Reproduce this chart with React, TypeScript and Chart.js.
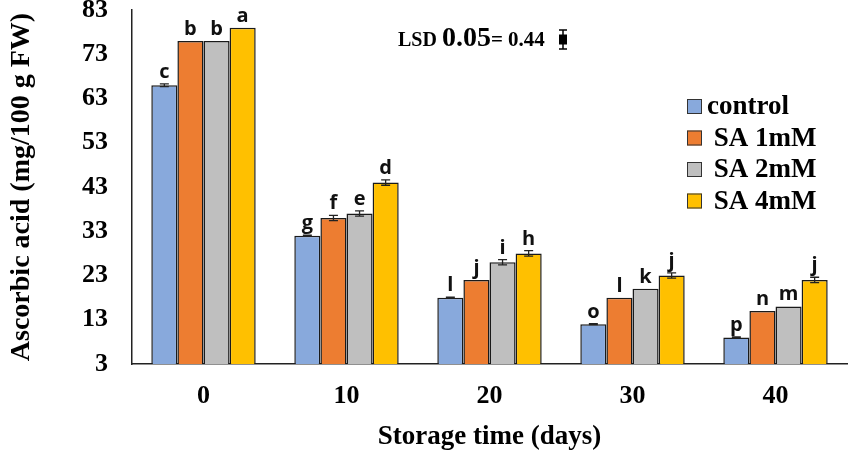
import { useEffect, useRef } from "react"
import { Chart, registerables } from "chart.js"

Chart.register(...registerables)

// Storage time (days)
const categories = ["0", "10", "20", "30", "40"]

// Ascorbic acid (mg/100 g FW)
const control = [66, 32, 18, 12, 9]
const sa1 = [76, 36, 22, 18, 15]
const sa2 = [76, 37, 26, 20, 16]
const sa4 = [79, 44, 28, 23, 22]

// error bar half-widths
const controlErr = [0.3, 0.1, 0.1, 0.1, 0.1]
const sa1Err = [0, 0.6, 0, 0, 0]
const sa2Err = [0, 0.6, 0.6, 0, 0]
const sa4Err = [0, 0.6, 0.6, 0.6, 0.6]

// significance letters
const controlLetters = ["c", "g", "l", "o", "p"]
const sa1Letters = ["b", "f", "j", "l", "n"]
const sa2Letters = ["b", "e", "i", "k", "m"]
const sa4Letters = ["a", "d", "h", "j", "j"]

const seriesNames = ["control", " SA 1mM", " SA 2mM", " SA 4mM"]
const colors = ["#88A9DC", "#ED7D31", "#BFBFBF", "#FFC000"]

const errors = [controlErr, sa1Err, sa2Err, sa4Err]
const letters = [controlLetters, sa1Letters, sa2Letters, sa4Letters]

const serif = '"Liberation Serif", "Times New Roman", serif'

const annotations = {
  id: "annotations",
  afterDatasetsDraw(chart: any) {
    const ctx = chart.ctx
    const yScale = chart.scales.y
    ctx.save()

    // error bars + letters
    chart.data.datasets.forEach((ds: any, i: number) => {
      const meta = chart.getDatasetMeta(i)
      meta.data.forEach((bar: any, j: number) => {
        const v = ds.data[j]
        const e = errors[i][j]
        let top = bar.y
        if (e > 0) {
          const hi = yScale.getPixelForValue(v + e)
          const lo = yScale.getPixelForValue(v - e)
          ctx.strokeStyle = "#222"
          ctx.lineWidth = 1.3
          ctx.beginPath()
          ctx.moveTo(bar.x, hi)
          ctx.lineTo(bar.x, lo)
          ctx.moveTo(bar.x - 4.5, hi)
          ctx.lineTo(bar.x + 4.5, hi)
          ctx.moveTo(bar.x - 4.5, lo)
          ctx.lineTo(bar.x + 4.5, lo)
          ctx.stroke()
          top = Math.min(top, hi)
        }
        ctx.fillStyle = "#111"
        ctx.font = 'bold 20px "Open Sans", sans-serif'
        ctx.textAlign = "center"
        ctx.textBaseline = "alphabetic"
        ctx.fillText(letters[i][j], bar.x, top - 6)
      })
    })

    // legend
    ctx.textAlign = "left"
    ctx.textBaseline = "middle"
    ctx.font = `bold 27px ${serif}`
    seriesNames.forEach((name, i) => {
      const cy = 106.5 + i * 31.5
      ctx.fillStyle = colors[i]
      ctx.fillRect(687, cy - 7.5, 15, 15)
      ctx.strokeStyle = "#333"
      ctx.lineWidth = 1
      ctx.strokeRect(687.5, cy - 7, 14, 14)
      ctx.fillStyle = "#000"
      ctx.fillText(name, 707, cy + 1)
    })

    // LSD note
    ctx.textBaseline = "alphabetic"
    ctx.fillStyle = "#000"
    let x = 398
    ctx.font = `bold 20px ${serif}`
    ctx.fillText("LSD ", x, 46)
    x += ctx.measureText("LSD ").width
    ctx.font = `bold 28px ${serif}`
    ctx.fillText("0.05", x, 46)
    x += ctx.measureText("0.05").width
    ctx.font = `bold 21px ${serif}`
    ctx.fillText("= 0.44", x, 46)

    ctx.strokeStyle = "#000"
    ctx.lineWidth = 1.5
    ctx.beginPath()
    ctx.moveTo(563, 30)
    ctx.lineTo(563, 49)
    ctx.moveTo(559, 30)
    ctx.lineTo(567, 30)
    ctx.moveTo(559, 49)
    ctx.lineTo(567, 49)
    ctx.stroke()
    ctx.fillStyle = "#000"
    ctx.fillRect(559, 34.5, 8, 10)

    ctx.restore()
  },
}

export default function App() {
  const chartRef = useRef<HTMLCanvasElement>(null)
  const chartInstance = useRef<Chart | null>(null)

  useEffect(() => {
    if (!chartRef.current) return
    if (chartInstance.current) chartInstance.current.destroy()

    const ctx = chartRef.current.getContext("2d")
    if (!ctx) return

    const seriesData = [control, sa1, sa2, sa4]

    chartInstance.current = new Chart(ctx, {
      type: "bar",
      data: {
        labels: categories,
        datasets: seriesData.map((d, i) => ({
          label: seriesNames[i].trim(),
          data: d,
          backgroundColor: colors[i],
          borderColor: "#1a1a1a",
          borderWidth: 1.5,
          borderSkipped: "bottom",
          categoryPercentage: 0.73,
          barPercentage: 1,
        })),
      },
      options: {
        responsive: true,
        maintainAspectRatio: false,
        animation: false,
        layout: { padding: { top: 10, right: 4, left: 0, bottom: 0 } },
        plugins: {
          legend: { display: false },
          tooltip: { enabled: false },
        },
        scales: {
          x: {
            grid: { display: false, drawTicks: false },
            border: { display: true, color: "#222", width: 1.5 },
            ticks: {
              padding: 17,
              color: "#000",
              font: { family: serif, size: 26, weight: "bold" },
            },
            title: {
              display: true,
              text: "Storage time (days)",
              color: "#000",
              padding: { top: 0, bottom: 0 },
              font: { family: serif, size: 27, weight: "bold", lineHeight: 1 },
            },
            afterFit: (scale: any) => {
              scale.height = 87
              scale.paddingLeft = 0
              scale.paddingRight = 0
            },
          },
          y: {
            min: 3,
            max: 83,
            grid: { display: false, drawTicks: false },
            border: { display: true, color: "#222", width: 1.5 },
            ticks: {
              stepSize: 10,
              padding: 24,
              color: "#000",
              font: { family: serif, size: 26, weight: "bold" },
            },
            title: {
              display: true,
              text: "Ascorbic acid (mg/100 g FW)",
              color: "#000",
              padding: { top: 8, bottom: 0 },
              font: { family: serif, size: 28, weight: "bold", lineHeight: 1 },
            },
            afterFit: (scale: any) => {
              scale.width = 132
              scale.paddingTop = 0
              scale.paddingBottom = 0
            },
          },
        },
      },
      plugins: [annotations],
    })

    return () => {
      if (chartInstance.current) {
        chartInstance.current.destroy()
        chartInstance.current = null
      }
    }
  }, [])

  return (
    <div style={{ position: "absolute", left: 0, top: 0, width: 851, height: 451, background: "#fff" }}>
      <canvas ref={chartRef} />
    </div>
  )
}
